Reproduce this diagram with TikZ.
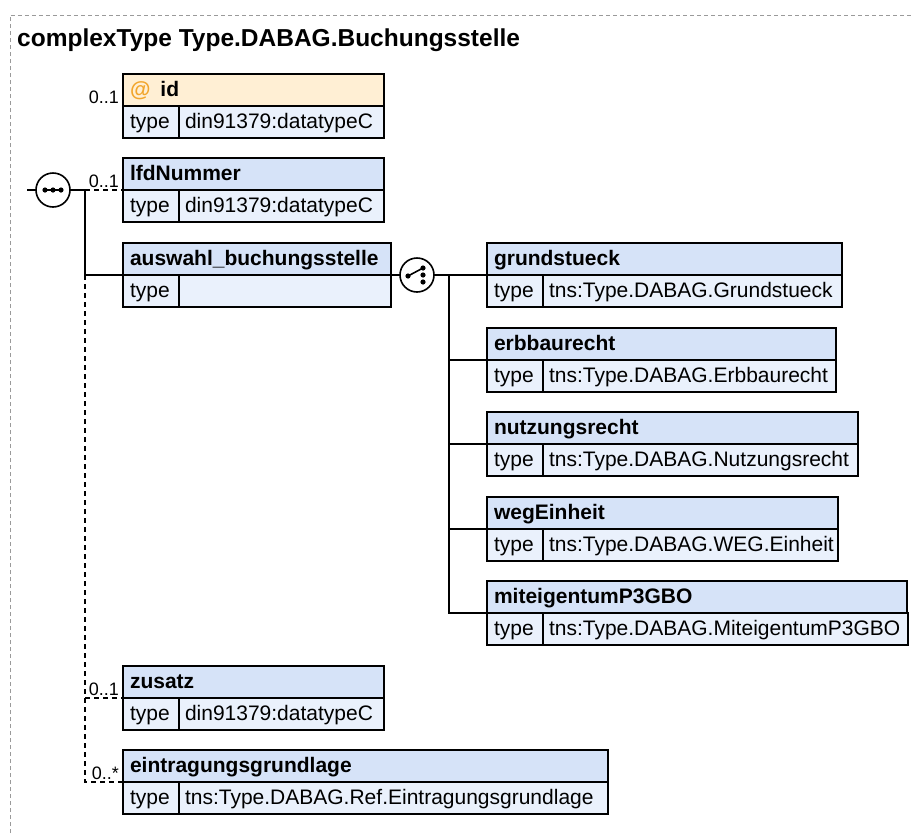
\documentclass[tikz,border=0pt]{standalone}
\usepackage{fontspec}
\setmainfont{Liberation Sans}
\usepackage{tikz}
\usetikzlibrary{positioning, calc}

\definecolor{headblue}{HTML}{D6E3F8}
\definecolor{rowblue}{HTML}{EAF1FC}
\definecolor{attrpeach}{HTML}{FFEFD4}
\definecolor{attrorange}{HTML}{F2A52B}
\definecolor{framegray}{HTML}{9A9A9A}

\newcommand{\headfont}{\fontsize{21}{25}\selectfont\bfseries\hyphenpenalty=10000\relax}
\newcommand{\cellfont}{\fontsize{21}{25}\selectfont\hyphenpenalty=10000\relax}
\newcommand{\multfont}{\fontsize{18}{21}\selectfont}
\newcommand{\titlefont}{\fontsize{24.5}{29}\selectfont\bfseries}

\begin{document}
\begin{tikzpicture}[
    x=1pt, y=-1pt,
    % Styles
    head/.style={rectangle, draw, line width=1.5pt, fill=headblue, anchor=north west, outer sep=0pt, minimum height=32pt, inner xsep=7pt, inner ysep=0pt, text height=15pt, text depth=3pt, align=left, font=\headfont},
    typecell/.style={rectangle, draw, line width=1.5pt, fill=rowblue, anchor=north west, outer sep=0pt, minimum height=32pt, text width=42pt, inner xsep=7pt, inner ysep=0pt, text height=15pt, text depth=3pt, align=left, font=\cellfont},
    valcell/.style={rectangle, draw, line width=1.5pt, fill=rowblue, anchor=north west, outer sep=0pt, minimum height=32pt, inner xsep=6pt, inner ysep=0pt, text height=15pt, text depth=3pt, align=left, font=\cellfont},
    compositor/.style={circle, draw, line width=1.6pt, fill=white, outer sep=0pt, minimum size=34pt, inner sep=0pt},
    mult/.style={anchor=base east, inner sep=0pt, font=\multfont},
    conn/.style={line width=1.6pt},
    opt/.style={line width=1.6pt, dash pattern=on 5pt off 4pt},
    frame/.style={framegray, line width=1pt, dash pattern=on 4pt off 3pt},
]
\useasboundingbox (0,0) rectangle (913,833);

% === FRAME AND TITLE ===
\draw[frame] (10,833) -- (10,15) -- (913,15);
\node[anchor=base west, inner sep=0pt, font=\titlefont] (title) at (17,46) {complexType Type.DABAG.Buchungsstelle};

% === ATTRIBUTE ===
\node[head, fill=attrpeach, text width=247pt] (idhead) at (123,74) {{\color{attrorange}@}\hspace{10pt}id};
\node[typecell] (idtype) at (123,106) {type};
\node[valcell, text width=193pt] (idval) at (179,106) {din91379:datatypeC};
\node[mult] (idmult) at (119,103) {0..1};

% === SEQUENCE (Left) ===
\node[head, text width=247pt] (lfdhead) at (123,158) {lfdNummer};
\node[typecell] (lfdtype) at (123,190) {type};
\node[valcell, text width=193pt] (lfdval) at (179,190) {din91379:datatypeC};

\node[head, text width=254pt] (auswahlhead) at (123,243) {auswahl\_buchungsstelle};
\node[typecell] (auswahltype) at (123,275) {type};
\node[valcell, text width=200pt] (auswahlval) at (179,275) {};

\node[head, text width=247pt] (zusatzhead) at (123,666) {zusatz};
\node[typecell] (zusatztype) at (123,698) {type};
\node[valcell, text width=193pt] (zusatzval) at (179,698) {din91379:datatypeC};

\node[head, text width=471pt] (eintraghead) at (123,750) {eintragungsgrundlage};
\node[typecell] (eintragtype) at (123,782) {type};
\node[valcell, text width=417pt] (eintragval) at (179,782) {tns:Type.DABAG.Ref.Eintragungsgrundlage};

% Multiplicities
\node[mult] (lfdmult) at (119,187) {0..1};
\node[mult] (zusatzmult) at (119,695) {0..1};
\node[mult] (eintragmult) at (119,779) {0..*};

% === CHOICE (Right) ===
\node[head, text width=341pt] (grundhead) at (487,243) {grundstueck};
\node[typecell] (grundtype) at (487,275) {type};
\node[valcell, text width=287pt] (grundval) at (543,275) {tns:Type.DABAG.Grundstueck};

\node[head, text width=335pt] (erbhead) at (487,328) {erbbaurecht};
\node[typecell] (erbtype) at (487,360) {type};
\node[valcell, text width=281pt] (erbval) at (543,360) {tns:Type.DABAG.Erbbaurecht};

\node[head, text width=357pt] (nutzhead) at (487,412) {nutzungsrecht};
\node[typecell] (nutztype) at (487,444) {type};
\node[valcell, text width=303pt] (nutzval) at (543,444) {tns:Type.DABAG.Nutzungsrecht};

\node[head, text width=337pt] (weghead) at (487,497) {wegEinheit};
\node[typecell] (wegtype) at (487,529) {type};
\node[valcell, text width=283pt] (wegval) at (543,529) {tns:Type.DABAG.WEG.Einheit};

\node[head, text width=406pt] (mitehead) at (487,581) {miteigentumP3GBO};
\node[typecell] (mitetype) at (487,613) {type};
\node[valcell, text width=353pt] (miteval) at (543,613) {tns:Type.DABAG.MiteigentumP3GBO};

% === COMPOSITORS ===
\node[compositor] (seq) at (53,190) {};
\draw[conn] ([xshift=-8pt]seq.center) -- ([xshift=8pt]seq.center);
\foreach \dx in {-8,0,8}
    \fill ([xshift=\dx pt]seq.center) circle (2.6pt);

\node[compositor] (choice) at (417,275) {};
\draw[conn] ([shift={(-9,1)}]choice.center) -- ([shift={(6,-7)}]choice.center);
\foreach \dy in {-7,0,7}
    \fill ([shift={(6,\dy)}]choice.center) circle (2.6pt);
\fill ([shift={(-9,1)}]choice.center) circle (2.6pt);

% Sequence connectors
\coordinate (seqin) at (27,190);
\coordinate (seqout) at (85,190);
\draw[conn] (seqin) -- (seq.west);
\draw[conn] (seq.east) -- (seqout) -- (seqout |- auswahlhead.south west) -- (auswahlhead.south west);
\draw[opt] (seqout) -- (lfdhead.south west);
\draw[opt] (seqout |- auswahlhead.south west) -- (seqout |- eintraghead.south west) -- (eintraghead.south west);
\draw[opt] (seqout |- zusatzhead.south west) -- (zusatzhead.south west);

% Choice connectors
\coordinate (choiceout) at (449,275);
\draw[conn] (auswahlhead.south east) -- (choice.west);
\draw[conn] (choice.east) -- (choiceout) -- (grundhead.south west);
\draw[conn] (choiceout) -- (choiceout |- mitehead.south west) -- (mitehead.south west);
\draw[conn] (choiceout |- erbhead.south west) -- (erbhead.south west);
\draw[conn] (choiceout |- nutzhead.south west) -- (nutzhead.south west);
\draw[conn] (choiceout |- weghead.south west) -- (weghead.south west);

\end{tikzpicture}
\end{document}
